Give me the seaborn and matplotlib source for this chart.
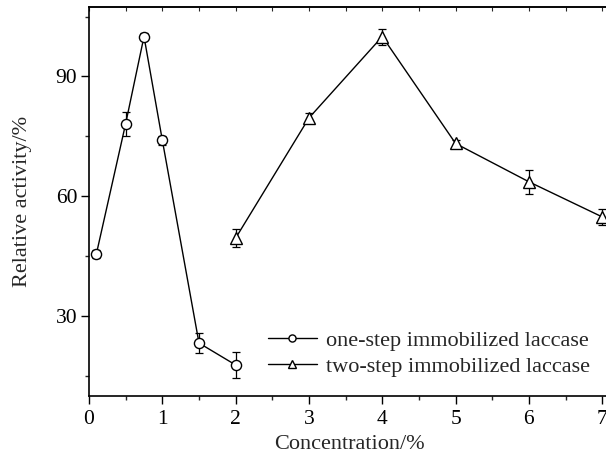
import matplotlib
matplotlib.use("Agg")
import matplotlib.pyplot as plt
import seaborn as sns
import pandas as pd
from matplotlib.ticker import MultipleLocator

# Relative activity vs. concentration for the two immobilization methods
one_step_conc = [0.1, 0.5, 0.75, 1.0, 1.5, 2.0]
one_step_act = [45.5, 78.2, 100.0, 74.0, 23.2, 17.7]
one_step_err = [1.0, 3.0, 0.8, 1.2, 2.4, 3.2]

two_step_conc = [2, 3, 4, 5, 6, 7]
two_step_act = [49.5, 79.6, 100.0, 73.2, 63.6, 54.8]
two_step_err = [2.2, 1.2, 2.0, 1.0, 3.0, 2.0]

labels = ["one-step immobilized laccase", "two-step immobilized laccase"]

sns.set_style("ticks")
plt.rcParams["font.family"] = ["Liberation Serif", "DejaVu Serif"]

one_df = pd.DataFrame({"conc": one_step_conc, "act": one_step_act, "err": one_step_err})
two_df = pd.DataFrame({"conc": two_step_conc, "act": two_step_act, "err": two_step_err})

fig = plt.figure(figsize=(6.06, 4.55), dpi=100)
ax = fig.add_axes([0.1469, 0.1303, 0.859, 0.8543])

series = [(one_df, "o", 7.3, labels[0]), (two_df, "^", 8.0, labels[1])]
for d, mk, ms, lab in series:
    ax.errorbar(d["conc"], d["act"], yerr=d["err"], fmt="none",
                ecolor="black", elinewidth=0.9, capsize=3.2, capthick=0.9, zorder=2)
    sns.lineplot(data=d, x="conc", y="act", color="black", marker=mk,
                 markersize=ms, markerfacecolor="white", markeredgecolor="black",
                 markeredgewidth=1.0, linewidth=1.0, ax=ax, zorder=3,
                 sort=False, label=lab)

ax.set_xlim(0, 7.1)
ax.set_ylim(10, 107.4)
ax.xaxis.set_major_locator(MultipleLocator(1))
ax.xaxis.set_minor_locator(MultipleLocator(0.5))
ax.yaxis.set_major_locator(MultipleLocator(30))
ax.yaxis.set_minor_locator(MultipleLocator(15))
ax.tick_params(which="major", direction="out", length=5.5, width=1.0,
               labelsize=15.5, colors="black")
ax.tick_params(which="minor", direction="out", length=3, width=1.0)
ax.tick_params(axis="x", which="major", pad=5)
ax.tick_params(axis="y", which="major", pad=3)
ax.tick_params(which="both", top=False, right=False)

# small inward ticks along the top frame
top = ax.secondary_xaxis("top")
top.xaxis.set_major_locator(MultipleLocator(0.5))
top.tick_params(direction="in", length=3, width=0.8, labeltop=False)
top.spines["top"].set_linewidth(1.2)

ax.set_xlabel("Concentration/%", fontsize=16, labelpad=4)
ax.set_ylabel("Relative activity/%", fontsize=16, labelpad=17)

for side in ["left", "bottom", "top", "right"]:
    ax.spines[side].set_color("black")
    ax.spines[side].set_linewidth(1.2)

leg = ax.legend(loc="lower left", bbox_to_anchor=(268 / 606, 1 - 377 / 455),
                bbox_transform=fig.transFigure, frameon=False,
                fontsize=16, handlelength=2.2, handletextpad=0.4,
                labelspacing=0.25, borderpad=0, borderaxespad=0, markerscale=0.7)

fig.savefig("out.png", dpi=100)
